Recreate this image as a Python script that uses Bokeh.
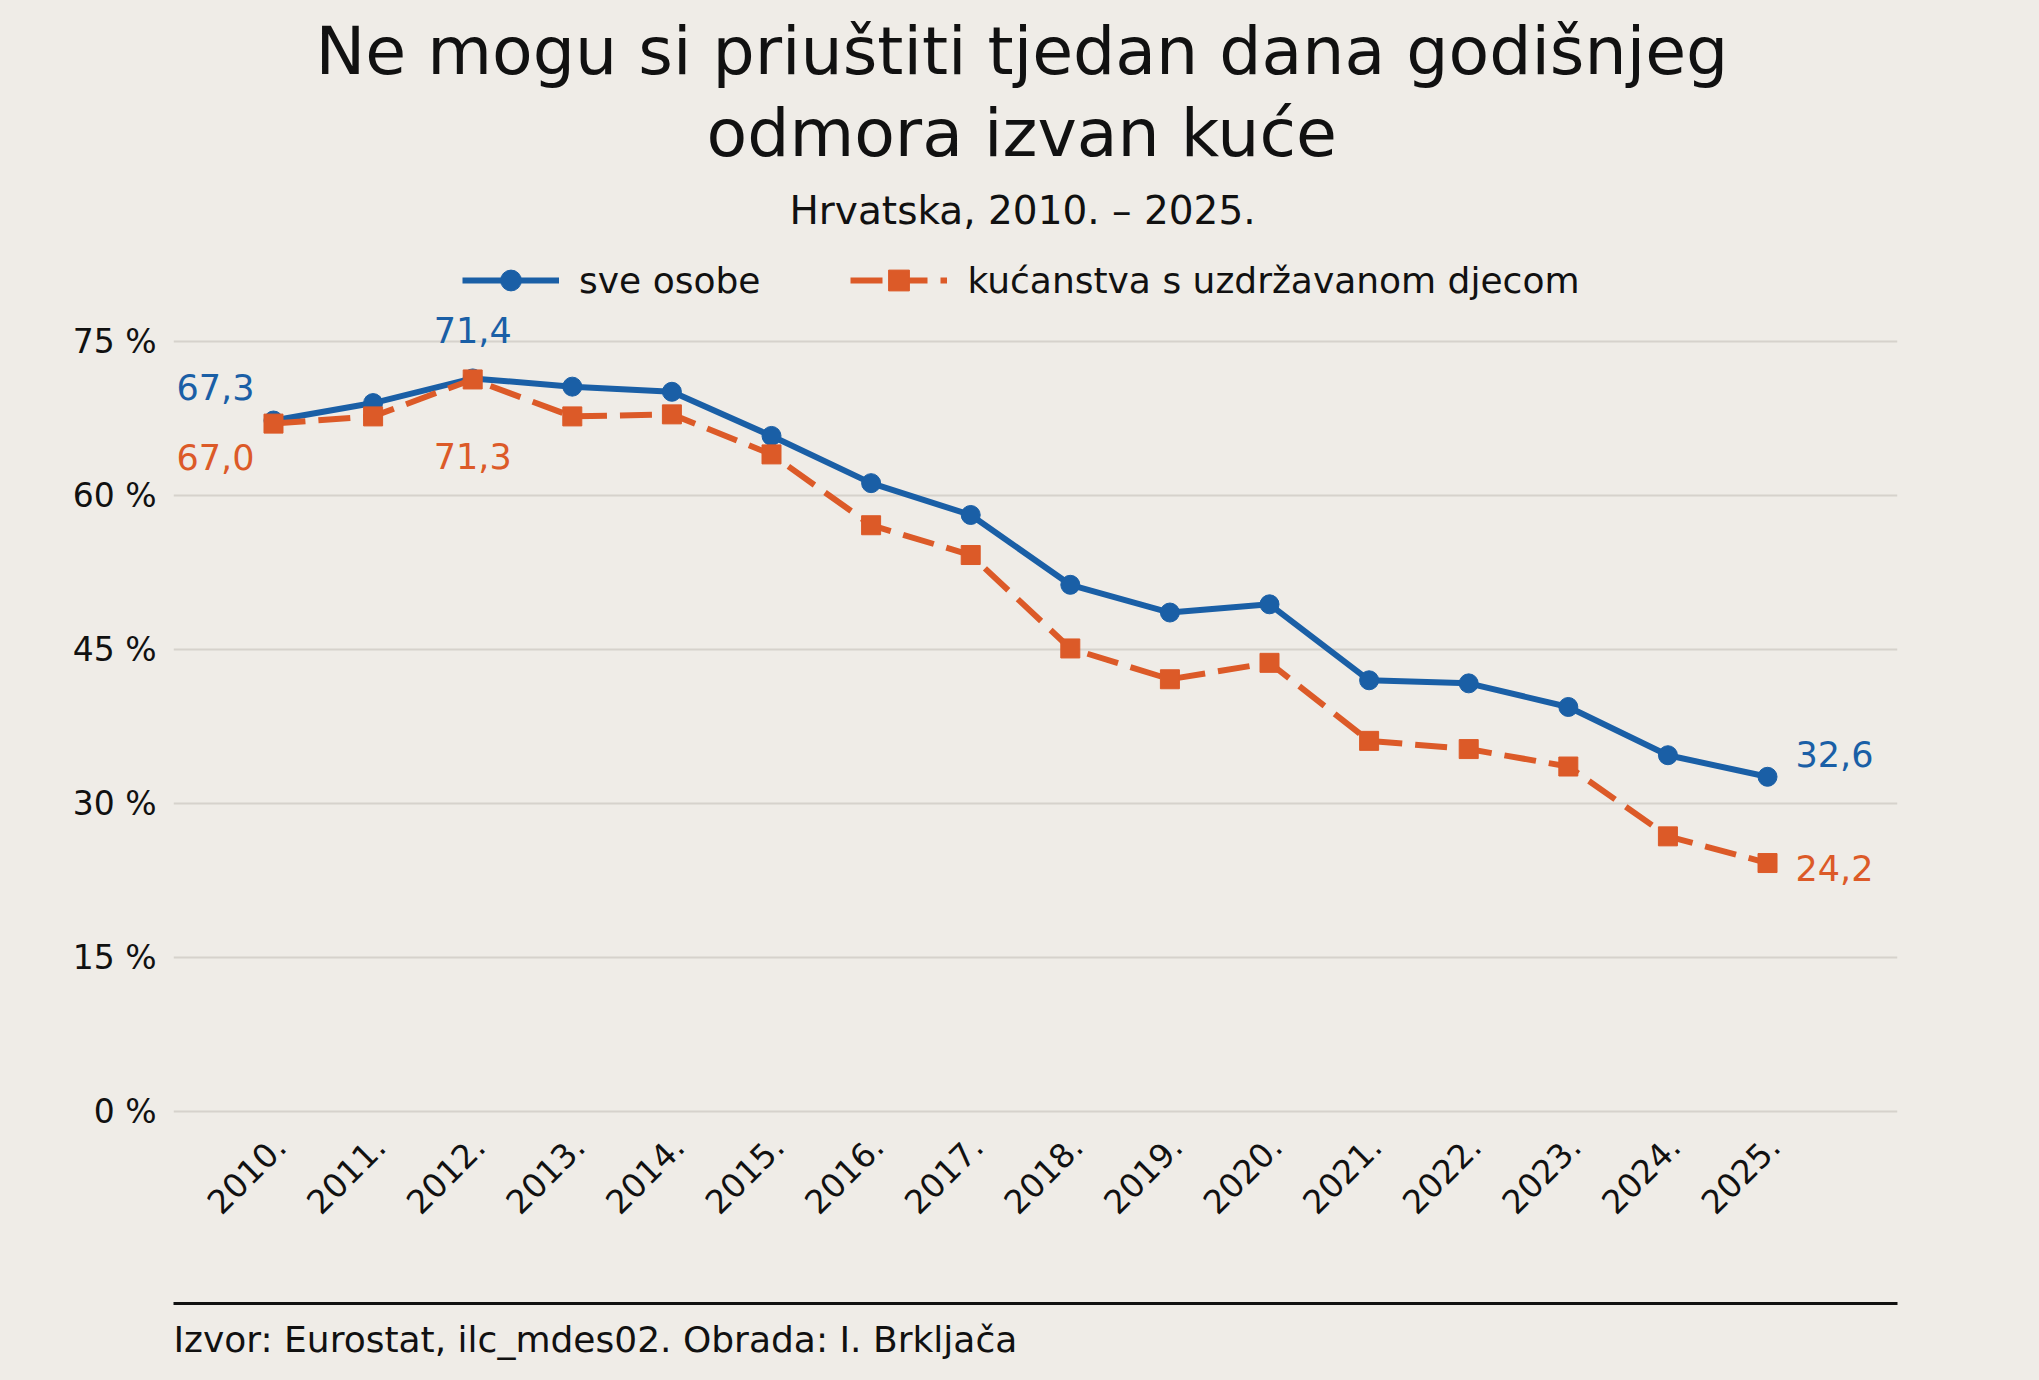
import math
from bokeh.plotting import figure
from bokeh.models import Range1d, FixedTicker, LinearAxis, Title, Legend, LegendItem
from bokeh.core.properties import value
from bokeh.embed import file_html
from bokeh.resources import INLINE

# ---------------- data ----------------
years = list(range(2010, 2026))
year_labels = [f"{y}." for y in years]
sve_osobe = [67.3, 69.0, 71.4, 70.6, 70.1, 65.8, 61.2, 58.1, 51.3, 48.6, 49.4, 42.0, 41.7, 39.4, 34.7, 32.6]
kucanstva_djeca = [67.0, 67.7, 71.3, 67.7, 67.9, 64.0, 57.1, 54.2, 45.1, 42.1, 43.7, 36.1, 35.3, 33.6, 26.8, 24.2]
series_names = ["sve osobe", "kućanstva s uzdržavanom djecom"]
y_ticks = [0, 15, 30, 45, 60, 75]
y_tick_labels = ["0 %", "15 %", "30 %", "45 %", "60 %", "75 %"]
labelled_years = [2010, 2012, 2025]
title_lines = ["Ne mogu si priuštiti tjedan dana godišnjeg", "odmora izvan kuće"]
subtitle = "Hrvatska, 2010. – 2025."
source_note = "Izvor: Eurostat, ilc_mdes02. Obrada: I. Brkljača"

# ---------------- style ----------------
BG = "#efece7"
BLUE = "#1a5fa6"
ORANGE = "#dc5a28"
GRID = "#d6d2cc"
INK = "#111111"
FONT = "DejaVu Sans"

X0, X1 = 2008.996, 2026.305
p = figure(width=2023, height=1375, title=None,
           x_range=Range1d(X0, X1), y_range=Range1d(-18.70, 83.86),
           output_backend="svg", toolbar_location=None,
           min_border_left=173, min_border_right=126, min_border_top=250, min_border_bottom=72,
           background_fill_color=BG, border_fill_color=BG, outline_line_color=None)

# slight horizontal nudge for the rotated year labels
p.extra_x_ranges = {"labels": Range1d(X0 - 0.06, X1 - 0.06)}

p.xaxis.visible = False
xa = LinearAxis(x_range_name="labels")
xa.fixed_location = 0
xa.ticker = FixedTicker(ticks=years)
xa.major_label_overrides = {y: l for y, l in zip(years, year_labels)}
xa.major_label_orientation = math.pi / 4
xa.axis_line_color = None
xa.major_tick_line_color = None
xa.minor_tick_line_color = None
xa.major_tick_out = 0
xa.major_label_standoff = 29
xa.major_label_text_font = FONT
xa.major_label_text_font_size = "33px"
xa.major_label_text_color = INK
p.add_layout(xa, "below")

ya = p.yaxis[0]
ya.ticker = FixedTicker(ticks=y_ticks)
ya.major_label_overrides = {t: l for t, l in zip(y_ticks, y_tick_labels)}
ya.axis_line_color = None
ya.major_tick_line_color = None
ya.minor_tick_line_color = None
ya.major_tick_out = 0
ya.major_label_standoff = 17
ya.major_label_text_font = FONT
ya.major_label_text_font_size = "33px"
ya.major_label_text_color = INK

p.xgrid.grid_line_color = None
p.ygrid.grid_line_color = GRID
p.ygrid.grid_line_width = 2

# bottom rule
rule = LinearAxis(ticker=FixedTicker(ticks=[]), axis_line_color="#111111", axis_line_width=3,
                  major_tick_line_color=None, minor_tick_line_color=None,
                  major_tick_out=0, major_label_text_font_size="0px")
p.add_layout(rule, "below")

# ---------------- series ----------------
bl = p.line(years, sve_osobe, line_color=BLUE, line_width=6)
bp = p.scatter(years, sve_osobe, marker="circle", size=19, fill_color=BLUE, line_color=BLUE)
ol = p.line(years, kucanstva_djeca, line_color=ORANGE, line_width=6, line_dash="32 13")
op = p.scatter(years, kucanstva_djeca, marker="square", size=19, fill_color=ORANGE, line_color=ORANGE)

# ---------------- value labels ----------------
def fmt(v):
    return f"{v:.1f}".replace(".", ",")

label_style = {
    2010: ((-19, -34, "right"), (-19, 33, "right")),
    2012: ((0, -48, "center"), (0, 77, "center")),
    2025: ((28, -23, "left"), (28, 5, "left")),
}
for yr in labelled_years:
    i = years.index(yr)
    for vals, col, st in ((sve_osobe, BLUE, label_style[yr][0]), (kucanstva_djeca, ORANGE, label_style[yr][1])):
        p.text(x=[yr], y=[vals[i]], text=[fmt(vals[i])], x_offset=st[0], y_offset=st[1],
               text_align=st[2], text_baseline="middle", text_color=col,
               text_font=value(FONT), text_font_size="35px")

# ---------------- legend ----------------
legend = Legend(items=[LegendItem(label=series_names[0], renderers=[bl, bp]),
                       LegendItem(label=series_names[1], renderers=[ol, op])],
                orientation="horizontal", location=(289, 997),
                glyph_width=97, glyph_height=52, label_height=52, label_standoff=20, spacing=90,
                padding=0, margin=0, background_fill_alpha=0, border_line_color=None,
                label_text_font=FONT, label_text_font_size="36px", label_text_color=INK)
p.add_layout(legend)

# ---------------- titles ----------------
def head(text, size, offset, standoff):
    return Title(text=text, align="left", offset=offset, standoff=standoff,
                 text_font=FONT, text_font_size=size, text_font_style="normal", text_color=INK)

p.add_layout(Title(text=" ", text_font_size="1px", standoff=1), "above")   # spacer
p.add_layout(head(subtitle, "39px", 616, 27), "above")
p.add_layout(head(title_lines[1], "66.5px", 533, 2), "above")
p.add_layout(head(title_lines[0], "66.5px", 142, 1), "above")

p.add_layout(head(source_note, "36px", 0, 27), "below")

html = file_html(p, INLINE)
html = html.replace("<head>", "<head><style>html,body{background-color:%s;}</style>" % BG, 1)
open("out.html", "w").write(html)
